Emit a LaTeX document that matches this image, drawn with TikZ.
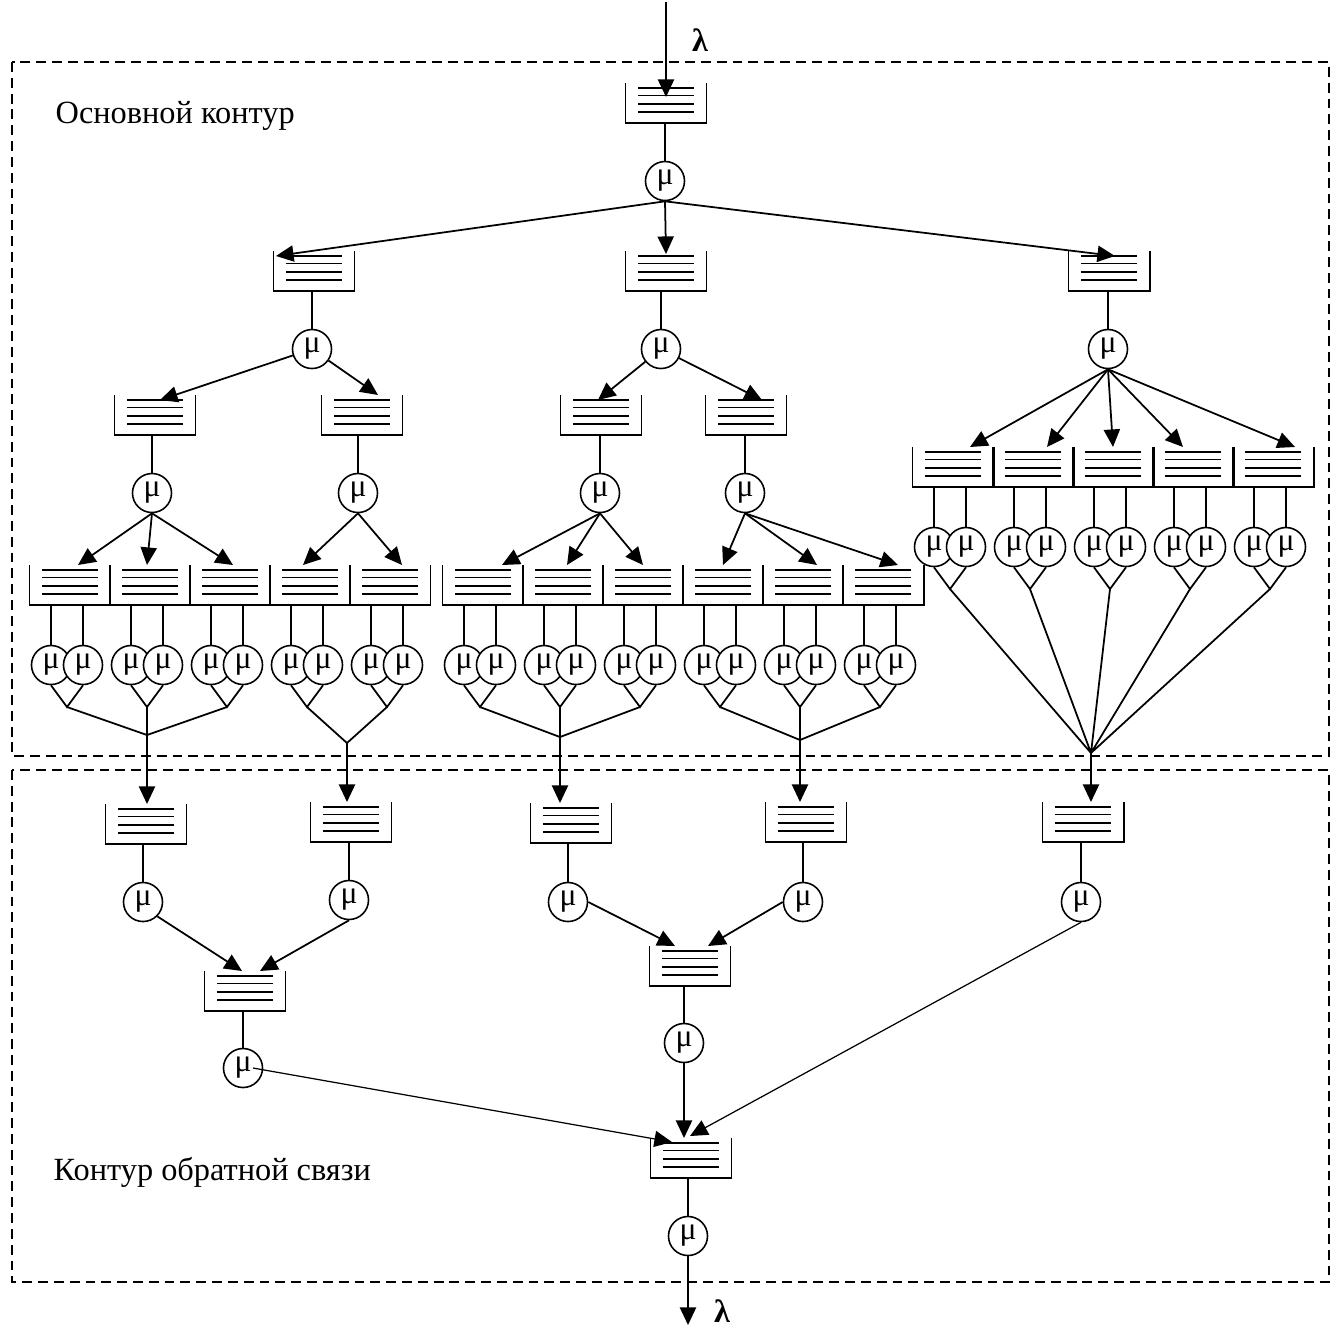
\documentclass[tikz,border=0pt]{standalone}
\usepackage{fontspec}
\setmainfont{Liberation Serif}
\usepackage{tikz}
\usetikzlibrary{arrows.meta}

\tikzset{
  qbox/.style={minimum width=0.81cm,minimum height=0.4cm,inner sep=0pt,outer sep=0pt},
  qwall/.style={line width=0.55pt},
  srv/.style={circle,draw,fill=white,minimum size=0.39cm,inner sep=0pt,line width=0.45pt,font=\fontsize{9pt}{9pt}\selectfont},
  ln/.style={line width=0.5pt},
  fb/.style={line width=0.35pt},
  arr/.style={ln,-{Triangle[length=5pt,width=4.6pt]}},
  frame/.style={line width=0.45pt,dash pattern=on 2.8pt off 1.7pt},
  lbl/.style={font=\fontsize{9.2pt}{11pt}\selectfont,anchor=base west,inner sep=0pt},
  lam/.style={font=\fontsize{9.2pt}{11pt}\selectfont\bfseries,inner sep=0pt}
}

% queue: name, x, y (centre)
\newcommand{\queue}[3]{%
  \node[qbox] (#1) at (#2,#3) {};
  \draw[qwall] (#1.north west) -- (#1.south west) -- (#1.south east) -- (#1.north east);
  \draw[qwall] ([xshift=-0.275cm,yshift=-0.05cm]#1.north) -- ([xshift=0.275cm,yshift=-0.05cm]#1.north)
               ([xshift=-0.275cm,yshift=-0.125cm]#1.north) -- ([xshift=0.275cm,yshift=-0.125cm]#1.north)
               ([xshift=-0.275cm,yshift=-0.21cm]#1.north) -- ([xshift=0.275cm,yshift=-0.21cm]#1.north)
               ([xshift=-0.275cm,yshift=-0.29cm]#1.north) -- ([xshift=0.275cm,yshift=-0.29cm]#1.north);
}
% queue with two servers: tag, x (pair centre), y of queue, y of servers
\newcommand{\qpair}[4]{%
  \queue{q#1}{#2+3}{#3}
  \node[srv] (s#1a) at (#2-16,#4) {μ};
  \node[srv] (s#1b) at (#2+16,#4) {μ};
  \coordinate (v#1) at (#2,#4+42);
  \draw[ln] (s#1a.north) -- (s#1a.north |- q#1.south)
            (s#1b.north) -- (s#1b.north |- q#1.south);
  \draw[ln] (s#1a.south) -- (v#1) -- (s#1b.south);
}

\begin{document}
\begin{tikzpicture}[x=0.01cm,y=-0.01cm]
  \useasboundingbox (0,0) rectangle (1339,1326);
  % Contours
  \draw[frame] (12,62) rectangle (1329,756);
  \draw[frame] (12,770) rectangle (1329,1282);
  \node[lbl] (main) at (55,123) {Основной контур};
  \node[lbl] (fback) at (53,1180) {Контур обратной связи};

  % Input
  \coordinate (in) at (666,2);
  \queue{q0}{666}{103}
  \node[srv] (s0) at (665,181) {μ};
  \draw[arr] (in) -- ([yshift=-0.14cm]q0.north);
  \node[lam] (lamIn) at (700,40) {λ};
  \draw[ln] (s0.north) -- (s0.north |- q0.south);

  % First level
  \queue{qA}{314}{271}
  \queue{qB}{666}{271}
  \queue{qC}{1109}{271}
  \node[srv] (sA) at (312,349) {μ};
  \node[srv] (sB) at (661,349) {μ};
  \node[srv] (sC) at (1108,349) {μ};
  \draw[arr] (s0.south) -- ([xshift=-0.38cm,yshift=-0.05cm]qA.north);
  \draw[arr] (s0.south) -- ([yshift=-0.03cm]qB.north);
  \draw[arr] (s0.south) -- ([xshift=0.06cm,yshift=-0.05cm]qC.north);
  \draw[ln] (sA.north) -- (sA.north |- qA.south)
            (sB.north) -- (sB.north |- qB.south)
            (sC.north) -- (sC.north |- qC.south);

  % Second level
  \queue{qAL}{155}{415}
  \queue{qAR}{362}{415}
  \queue{qBL}{601}{415}
  \queue{qBR}{746}{415}
  \node[srv] (sAL) at (152,493) {μ};
  \node[srv] (sAR) at (358,493) {μ};
  \node[srv] (sBL) at (600,493) {μ};
  \node[srv] (sBR) at (745,493) {μ};
  \draw[arr] (sA) -- ([xshift=0.05cm,yshift=-0.05cm]qAL.north);
  \draw[arr] (sA) -- ([xshift=0.16cm]qAR.north);
  \draw[arr] (sB) -- ([xshift=-0.03cm,yshift=-0.05cm]qBL.north);
  \draw[arr] (sB) -- ([xshift=0.16cm,yshift=-0.05cm]qBR.north);
  \draw[ln] (sAL.north) -- (sAL.north |- qAL.south)
            (sAR.north) -- (sAR.north |- qAR.south)
            (sBL.north) -- (sBL.north |- qBL.south)
            (sBR.north) -- (sBR.north |- qBR.south);

  % Third level
  \qpair{AL1}{67}{585}{665}
  \qpair{AL2}{147}{585}{665}
  \qpair{AL3}{227}{585}{665}
  \qpair{AR1}{307}{585}{665}
  \qpair{AR2}{387}{585}{665}
  \qpair{BL1}{480}{585}{665}
  \qpair{BL2}{560}{585}{665}
  \qpair{BL3}{640}{585}{665}
  \qpair{BR1}{720}{585}{665}
  \qpair{BR2}{800}{585}{665}
  \qpair{BR3}{880}{585}{665}
  \qpair{C1}{950}{467}{547}
  \qpair{C2}{1030}{467}{547}
  \qpair{C3}{1110}{467}{547}
  \qpair{C4}{1190}{467}{547}
  \qpair{C5}{1270}{467}{547}
  \draw[arr] (sAL.south) -- ([xshift=0.08cm]qAL1.north);
  \draw[arr] (sAL.south) -- ([xshift=-0.03cm]qAL2.north);
  \draw[arr] (sAL.south) -- ([xshift=0.03cm]qAL3.north);
  \draw[arr] (sAR.south) -- ([xshift=-0.07cm]qAR1.north);
  \draw[arr] (sAR.south) -- ([xshift=0.12cm]qAR2.north);
  \draw[arr] (sBL.south) -- ([xshift=0.19cm]qBL1.north);
  \draw[arr] (sBL.south) -- ([xshift=0.04cm]qBL2.north);
  \draw[arr] (sBL.south) -- (qBL3.north);
  \draw[arr] (sBR.south) -- (qBR1.north);
  \draw[arr] (sBR.south) -- ([xshift=0.14cm]qBR2.north);
  \draw[arr] (sBR.south) -- ([xshift=0.15cm]qBR3.north);
  \draw[arr] (sC.south) -- ([xshift=0.17cm]qC1.north);
  \draw[arr] (sC.south) -- ([xshift=0.14cm]qC2.north);
  \draw[arr] (sC.south) -- (qC3.north);
  \draw[arr] (sC.south) -- ([xshift=-0.10cm]qC4.north);
  \draw[arr] (sC.south) -- ([xshift=0.22cm]qC5.north);

  % Joins
  \coordinate (jAL) at (147,735);
  \coordinate (jAR) at (347,743);
  \coordinate (jBL) at (560,737);
  \coordinate (jBR) at (800,740);
  \coordinate (jC) at (1091,753);
  \draw[ln] (vAL1) -- (jAL) -- (vAL3) (vAL2) -- (jAL);
  \draw[ln] (vAR1) -- (jAR) -- (vAR2);
  \draw[ln] (vBL1) -- (jBL) -- (vBL3) (vBL2) -- (jBL);
  \draw[ln] (vBR1) -- (jBR) -- (vBR3) (vBR2) -- (jBR);
  \draw[ln] (vC1) -- (jC) -- (vC5) (vC2) -- (jC) -- (vC4) (vC3) -- (jC);

  % Feedback contour
  \queue{qF1}{146}{824}
  \queue{qF2}{351}{822}
  \queue{qF3}{571}{823}
  \queue{qF4}{806}{822}
  \queue{qF5}{1083}{822}
  \draw[arr] (jAL) -- (jAL |- qF1.north);
  \draw[arr] (jAR) -- (jAR |- qF2.north);
  \draw[arr] (jBL) -- (jBL |- qF3.north);
  \draw[arr] (jBR) -- (jBR |- qF4.north);
  \draw[arr] (jC) -- (jC |- qF5.north);
  \node[srv] (sF1) at (143,902) {μ};
  \node[srv] (sF2) at (349,900) {μ};
  \node[srv] (sF3) at (568,902) {μ};
  \node[srv] (sF4) at (803,902) {μ};
  \node[srv] (sF5) at (1081,902) {μ};
  \draw[ln] (sF1.north) -- (sF1.north |- qF1.south)
            (sF2.north) -- (sF2.north |- qF2.south)
            (sF3.north) -- (sF3.north |- qF3.south)
            (sF4.north) -- (sF4.north |- qF4.south)
            (sF5.north) -- (sF5.north |- qF5.south);

  \queue{qG1}{245}{991}
  \queue{qG2}{690}{966}
  \node[srv] (sG1) at (243,1068) {μ};
  \node[srv] (sG2) at (684,1043) {μ};
  \draw[arr] (sF1.south east) -- ([xshift=-0.03cm]qG1.north);
  \draw[arr] (sF2.south) -- ([xshift=0.15cm]qG1.north);
  \draw[arr] (sF3.east) -- ([xshift=-0.15cm]qG2.north);
  \draw[arr] (sF4.west) -- ([xshift=0.18cm]qG2.north);
  \draw[ln] (sG1.north) -- (sG1.north |- qG1.south)
            (sG2.north) -- (sG2.north |- qG2.south);

  % Output
  \queue{qOut}{691}{1158}
  \node[srv] (sOut) at (688,1236) {μ};
  \draw[arr] (sG2.south) -- (sG2.south |- qOut.north);
  \draw[arr,fb] (sF5.south) -- ([xshift=-0.01cm,yshift=0.02cm]qOut.north);
  \draw[arr,fb] ([xshift=0.1cm]sG1.center) -- ([xshift=-0.19cm,yshift=-0.04cm]qOut.north);
  \draw[ln] (sOut.north) -- (sOut.north |- qOut.south);
  \coordinate (out) at (688,1325);
  \draw[arr] (sOut.south) -- (out);
  \node[lam] (lamOut) at (722,1311) {λ};
\end{tikzpicture}
\end{document}
